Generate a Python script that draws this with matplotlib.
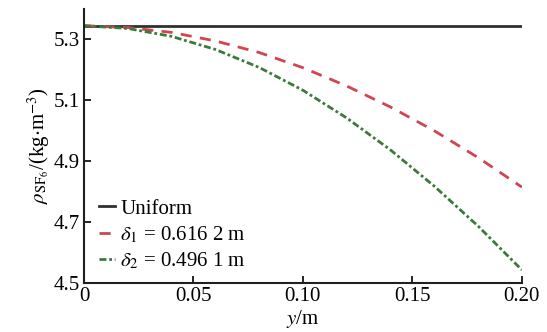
import matplotlib
matplotlib.use("Agg")
import matplotlib.pyplot as plt

plt.rcParams['font.family'] = ['Liberation Serif', 'DejaVu Serif']
plt.rcParams['mathtext.fontset'] = 'stix'

# values
y_pos = [0, 0.02, 0.04, 0.06, 0.08, 0.10, 0.12, 0.14, 0.16, 0.18, 0.20]
rho_uniform = [5.345] * len(y_pos)
rho_d1 = [5.345, 5.339, 5.323, 5.295, 5.257, 5.207, 5.147, 5.078, 5.000, 4.912, 4.815]
rho_d2 = [5.345, 5.336, 5.310, 5.267, 5.208, 5.133, 5.042, 4.937, 4.818, 4.687, 4.543]

fig = plt.figure(figsize=(5.47, 3.32), dpi=100)
ax = fig.add_axes([0.1536, 0.1476, 0.8004, 0.8254])

ax.plot(y_pos, rho_uniform, color='#303030', lw=2.0, label='Uniform')
ax.plot(y_pos, rho_d1, color='#d0454f', lw=2.0, ls=(0, (4, 3)),
        label=r'$\delta_1$ = 0.616 2 m')
ax.plot(y_pos, rho_d2, color='#3c7a3c', lw=2.0, ls=(0, (2.5, 1, 1, 1)),
        label=r'$\delta_2$ = 0.496 1 m')

ax.set_xlim(0, 0.2)
ax.set_ylim(4.5, 5.4)
ax.set_xticks([0, 0.05, 0.10, 0.15, 0.20])
ax.set_xticklabels(['0', '0.05', '0.10', '0.15', '0.20'])
ax.set_yticks([4.5, 4.7, 4.9, 5.1, 5.3])
ax.set_yticklabels(['4.5', '4.7', '4.9', '5.1', '5.3'])
ax.tick_params(direction='in', length=5, width=1.2, labelsize=15, pad=3)
for s in ['top', 'right']:
    ax.spines[s].set_visible(False)
for s in ['left', 'bottom']:
    ax.spines[s].set_linewidth(1.5)
    ax.spines[s].set_color('#202020')

ax.set_xlabel(r'$y$/m', fontsize=15, labelpad=1)
ax.set_ylabel(r'$\rho_{\mathrm{SF}_6}$/(kg$\cdot$m$^{-3}$)', fontsize=15, labelpad=1)

ax.legend(loc='lower left', bbox_to_anchor=(0.0, -0.01), frameon=False,
          fontsize=15, handlelength=0.8, handletextpad=0.25,
          labelspacing=0.27, borderaxespad=0.3)

fig.savefig('out.png', dpi=100)
